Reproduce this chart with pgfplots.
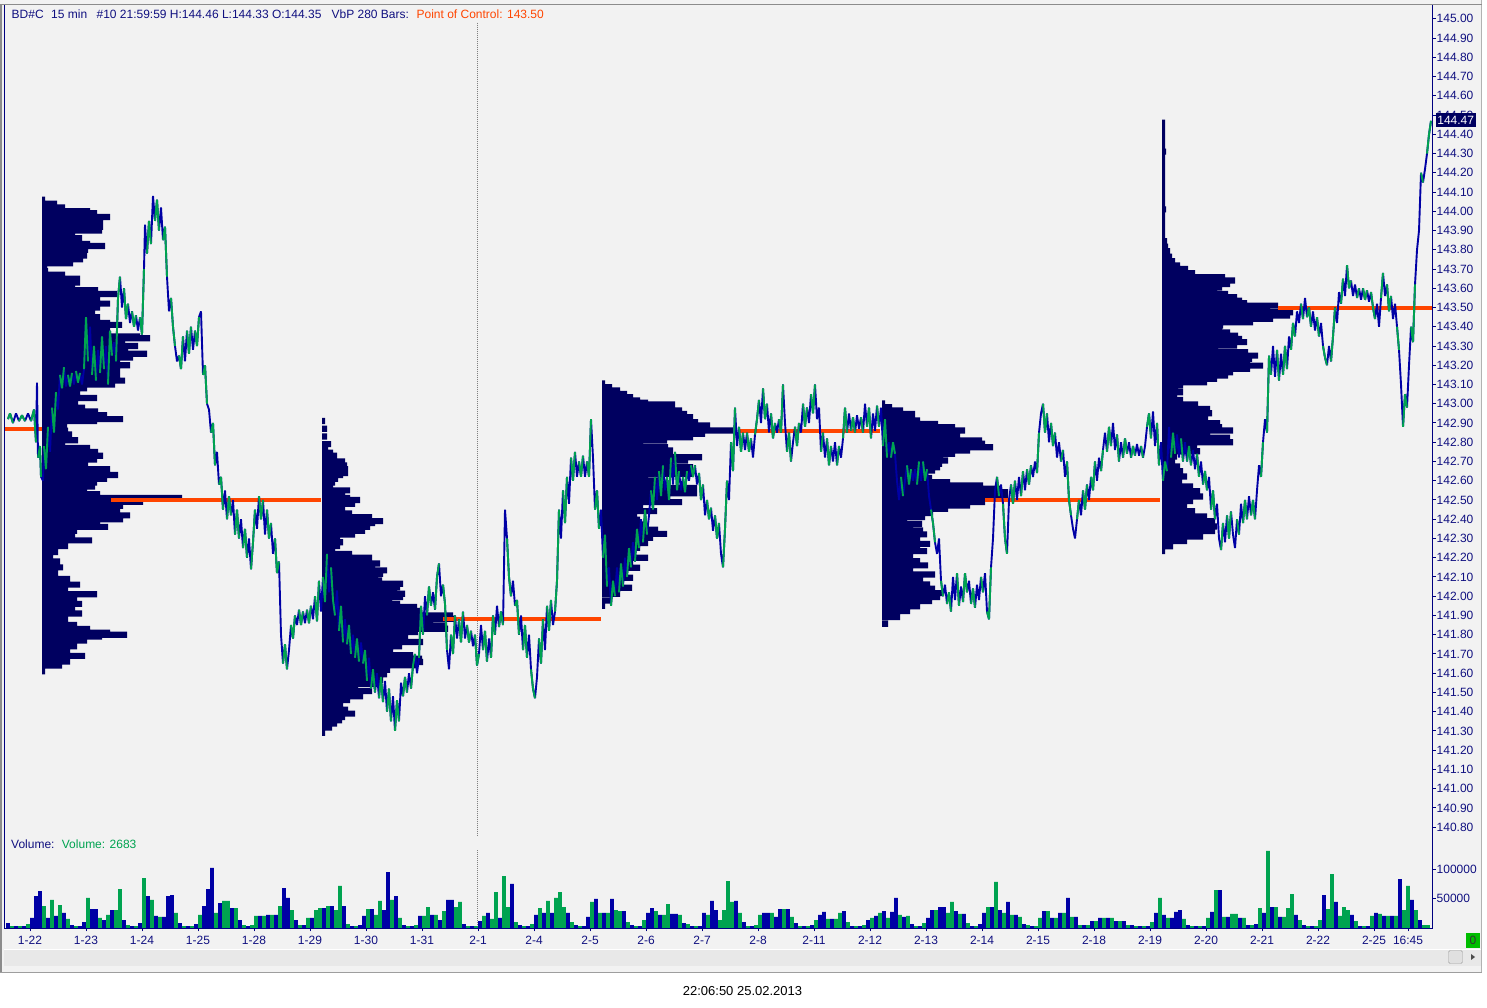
\documentclass[border=0pt]{standalone}
\usepackage{fontspec}
\setmainfont{Liberation Sans}
\usepackage{pgfplots}
\pgfplotsset{compat=1.18}
\usepackage{pgfplotstable}
\definecolor{bgGray}{RGB}{242,242,242}
\definecolor{profNavy}{RGB}{0,0,96}
\definecolor{pBlue}{RGB}{0,0,165}
\definecolor{pGreen}{RGB}{0,163,80}
\definecolor{pocOrange}{RGB}{255,69,0}
\definecolor{txtNavy}{RGB}{16,16,128}
\definecolor{axNavy}{RGB}{0,0,128}
\definecolor{boxGreen}{RGB}{0,190,0}
\newcommand\lbl{\fontsize{12}{14}\selectfont}

\pgfplotstableread[row sep=\\]{
x p\\
8 142.92\\ 10 142.95\\ 13 142.90\\ 16 142.95\\ 19 142.91\\ 22 142.94\\ 25 142.91\\ 28 142.95\\ 31 142.91\\ 34 142.97\\
36 142.80\\ 37 143.11\\ 38 142.72\\ 40 142.78\\ 41 142.62\\ 43 142.60\\ 44 142.78\\ 46 142.66\\ 48 142.88\\ 50 142.75\\
52 142.98\\ 54 142.85\\ 56 143.06\\ 58 142.97\\ 60 143.15\\ 62 143.08\\ 64 143.19\\ 66 143.09\\ 68 143.15\\ 70 143.09\\
72 143.16\\ 74 143.10\\ 76 143.17\\ 78 143.11\\ 80 143.16\\ 82 143.10\\ 84 143.18\\ 86 143.45\\ 88 143.22\\ 90 143.40\\
92 143.15\\ 94 143.30\\ 96 143.12\\ 98 143.28\\ 100 143.16\\ 102 143.35\\ 104 143.18\\ 106 143.30\\ 108 143.10\\ 110 143.38\\
112 143.25\\ 114 143.32\\ 116 143.22\\ 118 143.55\\ 120 143.66\\ 122 143.50\\ 124 143.60\\ 126 143.44\\ 128 143.52\\ 130 143.42\\
132 143.48\\ 134 143.40\\ 136 143.46\\ 138 143.38\\ 140 143.45\\ 142 143.36\\ 144 143.70\\ 145 143.93\\ 147 143.78\\ 149 143.95\\
151 143.83\\ 153 144.08\\ 155 143.95\\ 157 144.06\\ 159 143.90\\ 161 144.02\\ 163 143.85\\ 165 143.92\\ 167 143.66\\ 169 143.48\\
171 143.55\\ 173 143.40\\ 175 143.30\\ 177 143.22\\ 179 143.25\\ 181 143.18\\ 183 143.35\\ 185 143.22\\ 187 143.38\\ 189 143.26\\
191 143.40\\ 193 143.28\\ 195 143.38\\ 197 143.30\\ 199 143.45\\ 201 143.48\\ 203 143.15\\ 205 143.20\\ 207 143.00\\ 209 142.97\\
211 142.85\\ 213 142.90\\ 215 142.68\\ 217 142.75\\ 219 142.58\\ 221 142.62\\ 223 142.45\\ 225 142.55\\ 227 142.40\\ 229 142.52\\
231 142.42\\ 233 142.50\\ 235 142.32\\ 237 142.45\\ 239 142.30\\ 241 142.40\\ 243 142.25\\ 245 142.35\\ 247 142.20\\ 249 142.30\\
251 142.14\\ 253 142.28\\ 255 142.45\\ 257 142.35\\ 259 142.52\\ 261 142.40\\ 263 142.50\\ 265 142.32\\ 267 142.45\\ 269 142.30\\
271 142.38\\ 273 142.22\\ 275 142.30\\ 277 142.12\\ 279 142.18\\ 281 141.80\\ 283 141.65\\ 285 141.75\\ 287 141.62\\ 289 141.72\\
291 141.85\\ 293 141.78\\ 295 141.90\\ 297 141.85\\ 299 141.93\\ 301 141.85\\ 303 141.92\\ 305 141.86\\ 307 141.93\\ 309 141.86\\
311 141.95\\ 313 141.88\\ 315 142.00\\ 317 141.87\\ 319 142.08\\ 321 141.92\\ 323 142.10\\ 325 141.97\\ 327 142.22\\ 329 142.02\\
331 142.15\\ 333 141.98\\ 335 141.90\\ 337 142.03\\ 339 141.82\\ 341 141.95\\ 343 141.76\\ 345 141.88\\ 347 141.75\\ 349 141.85\\
351 141.70\\ 353 141.80\\ 355 141.68\\ 357 141.78\\ 359 141.66\\ 361 141.76\\ 363 141.65\\ 365 141.72\\ 367 141.56\\ 369 141.68\\
371 141.52\\ 373 141.62\\ 375 141.50\\ 377 141.60\\ 379 141.47\\ 381 141.58\\ 383 141.45\\ 385 141.56\\ 387 141.40\\ 389 141.52\\
391 141.35\\ 393 141.48\\ 395 141.30\\ 397 141.46\\ 399 141.35\\ 401 141.55\\ 403 141.48\\ 405 141.58\\ 407 141.50\\ 409 141.60\\
411 141.52\\ 413 141.64\\ 415 141.70\\ 417 141.60\\ 419 141.68\\ 421 141.95\\ 423 141.80\\ 425 142.00\\ 427 141.90\\ 429 142.05\\
431 141.95\\ 433 142.02\\ 435 141.93\\ 437 142.10\\ 439 142.17\\ 441 142.00\\ 443 142.06\\ 445 141.96\\ 447 141.72\\ 449 141.62\\
451 141.80\\ 453 141.70\\ 455 141.90\\ 457 141.78\\ 459 141.88\\ 461 141.76\\ 463 141.92\\ 465 141.78\\ 467 141.85\\ 469 141.76\\
471 141.82\\ 473 141.74\\ 475 141.80\\ 477 141.64\\ 479 141.70\\ 481 141.85\\ 483 141.72\\ 485 141.82\\ 487 141.66\\ 489 141.78\\
491 141.68\\ 493 141.90\\ 495 141.80\\ 497 141.95\\ 499 141.84\\ 501 141.92\\ 503 141.85\\ 505 142.45\\ 507 142.30\\ 509 142.10\\
511 142.00\\ 513 142.08\\ 515 141.95\\ 517 141.98\\ 519 141.80\\ 521 141.90\\ 523 141.72\\ 525 141.85\\ 527 141.68\\ 529 141.80\\
531 141.62\\ 533 141.52\\ 535 141.47\\ 537 141.58\\ 539 141.78\\ 541 141.65\\ 543 141.88\\ 545 141.72\\ 547 141.95\\ 549 141.82\\
551 141.98\\ 553 141.85\\ 555 141.92\\ 557 142.08\\ 559 142.45\\ 561 142.30\\ 563 142.55\\ 565 142.38\\ 567 142.62\\ 569 142.48\\
571 142.72\\ 573 142.60\\ 575 142.75\\ 577 142.62\\ 579 142.70\\ 581 142.62\\ 583 142.73\\ 585 142.62\\ 587 142.70\\ 589 142.62\\
591 142.92\\ 593 142.72\\ 595 142.45\\ 597 142.55\\ 599 142.35\\ 601 142.45\\ 603 142.20\\ 605 142.32\\ 607 142.05\\ 609 142.15\\
611 141.95\\ 613 142.08\\ 615 142.00\\ 617 142.15\\ 619 142.02\\ 621 142.17\\ 623 142.05\\ 625 142.20\\ 627 142.10\\ 629 142.25\\
631 142.15\\ 633 142.28\\ 635 142.18\\ 637 142.35\\ 639 142.25\\ 641 142.40\\ 643 142.28\\ 645 142.45\\ 647 142.32\\ 649 142.42\\
651 142.55\\ 653 142.45\\ 655 142.62\\ 657 142.50\\ 659 142.65\\ 661 142.52\\ 663 142.68\\ 665 142.55\\ 667 142.62\\ 669 142.50\\
671 142.72\\ 673 142.58\\ 675 142.75\\ 677 142.55\\ 679 142.65\\ 681 142.55\\ 683 142.62\\ 685 142.54\\ 687 142.65\\ 689 142.60\\
691 142.68\\ 693 142.62\\ 695 142.68\\ 697 142.58\\ 699 142.64\\ 701 142.50\\ 703 142.58\\ 705 142.42\\ 707 142.50\\ 709 142.40\\
711 142.46\\ 713 142.34\\ 715 142.42\\ 717 142.30\\ 719 142.38\\ 721 142.22\\ 723 142.15\\ 725 142.35\\ 727 142.60\\ 729 142.50\\
731 142.80\\ 733 142.65\\ 735 142.98\\ 737 142.78\\ 739 142.88\\ 741 142.75\\ 743 142.85\\ 745 142.76\\ 747 142.85\\ 749 142.75\\
751 142.82\\ 753 142.72\\ 755 142.84\\ 757 142.92\\ 759 143.02\\ 761 142.90\\ 763 143.08\\ 765 142.92\\ 767 143.00\\ 769 142.85\\
771 142.95\\ 773 142.82\\ 775 142.90\\ 777 142.85\\ 779 142.92\\ 781 142.85\\ 783 143.10\\ 785 142.90\\ 787 142.75\\ 789 142.85\\
791 142.70\\ 793 142.80\\ 795 142.88\\ 797 142.78\\ 799 142.90\\ 801 142.85\\ 803 143.00\\ 805 142.88\\ 807 142.98\\ 809 142.90\\
811 143.05\\ 813 142.95\\ 815 143.10\\ 817 142.92\\ 819 142.98\\ 821 142.75\\ 823 142.85\\ 825 142.72\\ 827 142.82\\ 829 142.68\\
831 142.78\\ 833 142.70\\ 835 142.80\\ 837 142.68\\ 839 142.78\\ 841 142.72\\ 843 142.82\\ 845 142.98\\ 847 142.85\\ 849 142.95\\
851 142.86\\ 853 142.93\\ 855 142.85\\ 857 142.94\\ 859 142.87\\ 861 142.93\\ 863 142.85\\ 865 143.00\\ 867 142.88\\ 869 142.98\\
871 142.82\\ 873 142.95\\ 875 142.86\\ 877 142.99\\ 879 142.88\\ 881 142.98\\ 883 142.78\\ 885 142.92\\ 887 142.72\\ 889 142.80\\
891 142.72\\ 893 142.80\\ 895 142.74\\ 897 142.60\\ 899 142.50\\ 901 142.62\\ 903 142.52\\ 905 142.60\\ 907 142.68\\ 909 142.58\\
911 142.66\\ 913 142.60\\ 915 142.66\\ 917 142.58\\ 919 142.70\\ 921 142.60\\ 923 142.70\\ 925 142.60\\ 927 142.66\\ 929 142.52\\
931 142.45\\ 933 142.38\\ 935 142.28\\ 937 142.22\\ 939 142.30\\ 941 142.08\\ 943 142.00\\ 945 142.06\\ 947 141.96\\ 949 142.02\\
951 141.92\\ 953 142.10\\ 955 141.98\\ 957 142.12\\ 959 141.95\\ 961 142.05\\ 963 141.97\\ 965 142.12\\ 967 142.02\\ 969 142.08\\
971 141.96\\ 973 142.04\\ 975 141.94\\ 977 142.06\\ 979 141.98\\ 981 142.10\\ 983 142.02\\ 985 142.12\\ 987 141.92\\ 989 141.88\\
991 142.15\\ 993 142.30\\ 995 142.55\\ 997 142.62\\ 999 142.52\\ 1001 142.58\\ 1003 142.48\\ 1005 142.30\\ 1007 142.22\\ 1009 142.50\\
1011 142.58\\ 1013 142.48\\ 1015 142.60\\ 1017 142.50\\ 1019 142.62\\ 1021 142.52\\ 1023 142.65\\ 1025 142.55\\ 1027 142.66\\ 1029 142.58\\
1031 142.68\\ 1033 142.62\\ 1035 142.70\\ 1037 142.64\\ 1039 142.85\\ 1041 142.95\\ 1043 143.00\\ 1045 142.85\\ 1047 142.95\\ 1049 142.80\\
1051 142.90\\ 1053 142.78\\ 1055 142.85\\ 1057 142.72\\ 1059 142.80\\ 1061 142.70\\ 1063 142.76\\ 1065 142.62\\ 1067 142.70\\ 1069 142.50\\
1071 142.42\\ 1073 142.35\\ 1075 142.30\\ 1077 142.40\\ 1079 142.50\\ 1081 142.42\\ 1083 142.55\\ 1085 142.45\\ 1087 142.58\\ 1089 142.50\\
1091 142.62\\ 1093 142.55\\ 1095 142.70\\ 1097 142.60\\ 1099 142.72\\ 1101 142.65\\ 1103 142.76\\ 1105 142.85\\ 1107 142.75\\ 1109 142.88\\
1111 142.78\\ 1113 142.90\\ 1115 142.76\\ 1117 142.84\\ 1119 142.70\\ 1121 142.80\\ 1123 142.72\\ 1125 142.82\\ 1127 142.74\\ 1129 142.80\\
1131 142.72\\ 1133 142.78\\ 1135 142.73\\ 1137 142.79\\ 1139 142.73\\ 1141 142.78\\ 1143 142.72\\ 1145 142.78\\ 1147 142.88\\ 1149 142.95\\
1151 142.82\\ 1153 142.96\\ 1155 142.78\\ 1157 142.90\\ 1159 142.68\\ 1161 142.80\\ 1163 142.60\\ 1165 142.70\\ 1167 142.65\\ 1169 142.88\\
1171 142.72\\ 1173 142.85\\ 1175 142.74\\ 1177 142.84\\ 1179 142.72\\ 1181 142.82\\ 1183 142.70\\ 1185 142.80\\ 1187 142.70\\ 1189 142.78\\
1191 142.68\\ 1193 142.76\\ 1195 142.66\\ 1197 142.74\\ 1199 142.62\\ 1201 142.70\\ 1203 142.58\\ 1205 142.65\\ 1207 142.55\\ 1209 142.62\\
1211 142.45\\ 1213 142.55\\ 1215 142.40\\ 1217 142.48\\ 1219 142.30\\ 1221 142.24\\ 1223 142.38\\ 1225 142.28\\ 1227 142.42\\ 1229 142.30\\
1231 142.44\\ 1233 142.32\\ 1235 142.25\\ 1237 142.40\\ 1239 142.32\\ 1241 142.48\\ 1243 142.38\\ 1245 142.50\\ 1247 142.40\\ 1249 142.52\\
1251 142.42\\ 1253 142.50\\ 1255 142.40\\ 1257 142.55\\ 1259 142.68\\ 1261 142.62\\ 1263 142.80\\ 1265 142.92\\ 1267 142.85\\ 1269 143.25\\
1271 143.15\\ 1273 143.30\\ 1275 143.14\\ 1277 143.28\\ 1279 143.12\\ 1281 143.26\\ 1283 143.15\\ 1285 143.30\\ 1287 143.18\\ 1289 143.35\\
1291 143.28\\ 1293 143.42\\ 1295 143.35\\ 1297 143.48\\ 1299 143.42\\ 1301 143.52\\ 1303 143.44\\ 1305 143.55\\ 1307 143.45\\ 1309 143.50\\
1311 143.40\\ 1313 143.48\\ 1315 143.38\\ 1317 143.45\\ 1319 143.35\\ 1321 143.42\\ 1323 143.30\\ 1325 143.24\\ 1327 143.20\\ 1329 143.30\\
1331 143.22\\ 1333 143.35\\ 1335 143.50\\ 1337 143.42\\ 1339 143.58\\ 1341 143.52\\ 1343 143.65\\ 1345 143.56\\ 1347 143.72\\ 1349 143.60\\
1351 143.64\\ 1353 143.56\\ 1355 143.62\\ 1357 143.55\\ 1359 143.60\\ 1361 143.54\\ 1363 143.60\\ 1365 143.54\\ 1367 143.59\\ 1369 143.53\\
1371 143.58\\ 1373 143.50\\ 1375 143.44\\ 1377 143.52\\ 1379 143.40\\ 1381 143.55\\ 1383 143.68\\ 1385 143.56\\ 1387 143.62\\ 1389 143.48\\
1391 143.56\\ 1393 143.44\\ 1395 143.52\\ 1397 143.40\\ 1399 143.28\\ 1401 143.10\\ 1403 142.88\\ 1405 143.05\\ 1407 142.98\\ 1409 143.20\\
1411 143.40\\ 1413 143.32\\ 1415 143.62\\ 1417 143.80\\ 1419 143.90\\ 1421 144.20\\ 1423 144.15\\ 1425 144.22\\ 1427 144.30\\ 1429 144.40\\
1431 144.47\\
}\pricetab

\pgfplotstableread[row sep=\\]{
x v c\\
8 8500 0\\ 12 3400 1\\ 16 3400 0\\ 20 3400 1\\ 24 3400 0\\ 28 6800 1\\ 32 17100 0\\ 36 54600 0\\ 40 63100 0\\ 44 37500 1\\
48 17100 0\\ 52 47800 1\\ 56 20500 0\\ 60 39200 1\\ 64 25600 0\\ 68 15400 1\\ 72 5100 0\\ 76 3400 1\\ 80 3400 0\\ 84 10200 0\\
88 51200 1\\ 92 32400 0\\ 96 32400 0\\ 100 17100 1\\ 104 13600 0\\ 108 22200 1\\ 112 30700 0\\ 116 30700 1\\ 120 66500 1\\ 124 13600 0\\
128 5100 1\\ 132 3400 0\\ 136 3400 1\\ 140 8500 0\\ 144 85300 1\\ 148 54600 0\\ 152 47800 1\\ 156 20500 0\\ 160 18800 1\\ 164 18800 0\\
168 54600 0\\ 172 56300 0\\ 176 25600 1\\ 180 8500 0\\ 184 3400 1\\ 188 3400 0\\ 192 3400 1\\ 196 6800 0\\ 200 22200 1\\ 204 37500 0\\
208 66500 0\\ 212 102400 0\\ 216 25600 1\\ 220 42600 0\\ 224 46100 1\\ 228 46100 1\\ 232 34100 0\\ 236 34100 1\\ 240 13600 0\\ 244 5100 1\\
248 3400 0\\ 252 5100 1\\ 256 20500 1\\ 260 20500 0\\ 264 20500 1\\ 268 22200 0\\ 272 22200 1\\ 276 22200 0\\ 280 37500 1\\ 284 68200 0\\
288 51200 0\\ 292 30700 1\\ 296 13600 0\\ 300 5100 1\\ 304 5100 0\\ 308 17100 1\\ 312 17100 0\\ 316 30700 1\\ 320 34100 1\\ 324 34100 0\\
328 37500 1\\ 332 37500 0\\ 336 30700 1\\ 340 71700 1\\ 344 37500 0\\ 348 6800 1\\ 352 3400 0\\ 356 3400 1\\ 360 5100 0\\ 364 20500 0\\
368 32400 1\\ 372 32400 0\\ 376 22200 1\\ 380 46100 1\\ 384 30700 0\\ 388 95500 0\\ 392 47800 1\\ 396 54600 0\\ 400 17100 1\\ 404 5100 0\\
408 3400 1\\ 412 3400 0\\ 416 5100 1\\ 420 20500 0\\ 424 20500 1\\ 428 35800 1\\ 432 22200 0\\ 436 22200 1\\ 440 13600 0\\ 444 29000 1\\
448 47800 0\\ 452 47800 0\\ 456 35800 1\\ 460 44400 1\\ 464 6800 0\\ 468 3400 1\\ 472 3400 0\\ 476 3400 1\\ 480 11900 0\\ 484 20500 1\\
488 25600 0\\ 492 15400 1\\ 496 61400 1\\ 500 17100 0\\ 504 88700 1\\ 508 35800 1\\ 512 75100 0\\ 516 10200 1\\ 520 5100 0\\ 524 3400 1\\
528 3400 0\\ 532 6800 1\\ 536 22200 0\\ 540 34100 1\\ 544 25600 0\\ 548 46100 1\\ 552 25600 0\\ 556 51200 1\\ 560 61400 1\\ 564 35800 1\\
568 25600 0\\ 572 10200 1\\ 576 5100 0\\ 580 3400 1\\ 584 3400 0\\ 588 18800 0\\ 592 44400 1\\ 596 49500 0\\ 600 25600 1\\ 604 25600 0\\
608 25600 1\\ 612 49500 0\\ 616 30700 1\\ 620 29000 1\\ 624 29000 0\\ 628 10200 1\\ 632 5100 0\\ 636 3400 1\\ 640 3400 0\\ 644 13600 1\\
648 25600 0\\ 652 34100 0\\ 656 29000 1\\ 660 22200 0\\ 664 22200 1\\ 668 40900 1\\ 672 23900 0\\ 676 23900 0\\ 680 22200 1\\ 684 8500 0\\
688 6800 1\\ 692 3400 0\\ 696 3400 1\\ 700 3400 0\\ 704 25600 0\\ 708 22200 1\\ 712 46100 0\\ 716 30700 0\\ 720 13600 1\\ 724 30700 1\\
728 80200 1\\ 732 44400 1\\ 736 46100 0\\ 740 25600 1\\ 744 10200 0\\ 748 3400 1\\ 752 3400 0\\ 756 5100 1\\ 760 22200 1\\ 764 25600 0\\
768 25600 0\\ 772 25600 1\\ 776 18800 0\\ 780 32400 0\\ 784 32400 1\\ 788 32400 0\\ 792 18800 1\\ 796 8500 0\\ 800 3400 1\\ 804 3400 0\\
808 3400 1\\ 812 5100 0\\ 816 13600 1\\ 820 22200 0\\ 824 27300 0\\ 828 15400 1\\ 832 15400 0\\ 836 15400 1\\ 840 25600 1\\ 844 29000 0\\
848 10200 1\\ 852 3400 0\\ 856 3400 1\\ 860 3400 0\\ 864 5100 1\\ 868 13600 0\\ 872 17100 1\\ 876 20500 0\\ 880 25600 1\\ 884 29000 0\\
888 17100 1\\ 892 27300 0\\ 896 51200 0\\ 900 22200 1\\ 904 18800 0\\ 908 20500 1\\ 912 6800 0\\ 916 3400 1\\ 920 3400 0\\ 924 8500 1\\
928 17100 0\\ 932 30700 0\\ 936 30700 1\\ 940 35800 0\\ 944 35800 0\\ 948 25600 1\\ 952 44400 1\\ 956 29000 0\\ 960 23900 1\\ 964 23900 0\\
968 8500 1\\ 972 3400 0\\ 976 3400 1\\ 980 6800 0\\ 984 25600 0\\ 988 35800 1\\ 992 35800 0\\ 996 78500 1\\ 1000 30700 0\\ 1004 25600 1\\
1008 44400 0\\ 1012 22200 1\\ 1016 22200 0\\ 1020 18800 1\\ 1024 6800 0\\ 1028 5100 1\\ 1032 3400 0\\ 1036 3400 1\\ 1040 17100 1\\ 1044 29000 0\\
1048 29000 1\\ 1052 17100 0\\ 1056 17100 1\\ 1060 25600 0\\ 1064 25600 1\\ 1068 51200 0\\ 1072 18800 1\\ 1076 18800 0\\ 1080 5100 1\\ 1084 5100 0\\
1088 5100 1\\ 1092 11900 0\\ 1096 11900 1\\ 1100 17100 0\\ 1104 17100 1\\ 1108 17100 0\\ 1112 17100 1\\ 1116 11900 0\\ 1120 11900 1\\ 1124 11900 0\\
1128 5100 1\\ 1132 5100 0\\ 1136 3400 1\\ 1140 3400 0\\ 1144 3400 1\\ 1148 3400 0\\ 1152 10200 1\\ 1156 25600 0\\ 1160 51200 1\\ 1164 22200 0\\
1168 17100 1\\ 1172 17100 0\\ 1176 27300 0\\ 1180 30700 0\\ 1184 15400 1\\ 1188 5100 0\\ 1192 3400 1\\ 1196 3400 0\\ 1200 3400 1\\ 1204 3400 0\\
1208 17100 1\\ 1212 27300 0\\ 1216 64800 1\\ 1220 64800 0\\ 1224 18800 1\\ 1228 18800 0\\ 1232 23900 1\\ 1236 23900 1\\ 1240 17100 0\\ 1244 17100 1\\
1248 5100 0\\ 1252 5100 1\\ 1256 6800 0\\ 1260 34100 1\\ 1264 25600 0\\ 1268 131400 1\\ 1272 35800 0\\ 1276 35800 1\\ 1280 18800 0\\ 1284 18800 1\\
1288 34100 1\\ 1292 58000 1\\ 1296 22200 0\\ 1300 13600 1\\ 1304 5100 0\\ 1308 3400 1\\ 1312 3400 0\\ 1316 3400 1\\ 1320 13600 1\\ 1324 56300 0\\
1328 32400 1\\ 1332 92100 1\\ 1336 44400 0\\ 1340 20500 1\\ 1344 35800 1\\ 1348 30700 1\\ 1352 22200 0\\ 1356 11900 1\\ 1360 3400 0\\ 1364 3400 1\\
1368 3400 0\\ 1372 20500 1\\ 1376 25600 0\\ 1380 23900 1\\ 1384 20500 0\\ 1388 20500 1\\ 1392 20500 0\\ 1396 20500 1\\ 1400 83600 0\\ 1404 30700 1\\
1408 71700 1\\ 1412 47800 0\\ 1416 30700 1\\ 1420 13600 0\\ 1424 5100 1\\ 1428 5100 1\\
}\voltab

\pgfplotsset{
  profile/.style={at={(4pt,172pt)}, anchor=south west, scale only axis,
    width=1428pt, height=831pt, ymin=140.754, ymax=145.072, hide axis, clip=true},
  profbar/.style={xbar, bar width=0.032, bar shift=0pt, fill=profNavy, draw=none},
}

\begin{document}
\begin{tikzpicture}[x=1pt,y=1pt]
\path[use as bounding box, fill=white] (0,0) rectangle (1487,1008);
\fill[bgGray] (0,36) rectangle (1482,1008);
% scrollbar area
\fill[black!9] (4,42) rectangle (1482,58);
\draw[white, line width=1pt] (4,58.5) -- (1482,58.5);
\fill[black!5] (4,36) rectangle (1482,42);
\draw[black!38, line width=1.2pt] (0,35.5) -- (1482,35.5);
\draw[black!30, line width=1pt] (1481.5,35.5) -- (1481.5,1008);
\draw[rounded corners=1.5pt, fill=black!12, draw=black!38] (1448.5,44.5) rectangle (1462.5,57.5);
\fill[black!70] (1471,48) -- (1475,51) -- (1471,54) -- cycle;
% frame lines
\draw[black!45, line width=1.2pt] (0,1003.2) -- (1482,1003.2);
\draw[black!45, line width=1.5pt] (1,36) -- (1,1003);

% ---------- volume profiles ----------
\begin{axis}[profile, xmin=-38, xmax=1390]
\addplot[profbar] table[row sep=\\, x=w, y=p]{
p w\\
144.06 3\\ 144.04 15\\ 144.02 23\\ 144.00 48\\ 143.99 55\\ 143.97 68\\ 143.95 61\\ 143.93 55\\ 143.92 61\\ 143.90 60\\
143.88 33\\ 143.86 40\\ 143.85 35\\ 143.83 48\\ 143.82 63\\ 143.80 46\\ 143.79 38\\ 143.77 45\\ 143.75 41\\ 143.73 31\\
143.71 5\\ 143.69 6\\ 143.67 23\\ 143.65 38\\ 143.63 38\\ 143.61 33\\ 143.59 56\\ 143.57 75\\ 143.55 58\\ 143.52 68\\
143.50 58\\ 143.47 53\\ 143.45 58\\ 143.42 68\\ 143.41 80\\ 143.38 68\\ 143.35 98\\ 143.34 108\\ 143.32 83\\ 143.30 96\\
143.28 86\\ 143.26 105\\ 143.24 91\\ 143.22 78\\ 143.20 88\\ 143.18 78\\ 143.15 78\\ 143.12 83\\ 143.10 73\\ 143.08 45\\
143.06 38\\ 143.03 55\\ 143.00 36\\ 142.98 43\\ 142.96 56\\ 142.94 65\\ 142.92 81\\ 142.91 55\\ 142.89 25\\ 142.86 26\\
142.84 30\\ 142.81 36\\ 142.79 23\\ 142.77 48\\ 142.75 56\\ 142.73 61\\ 142.71 55\\ 142.68 46\\ 142.66 68\\ 142.63 76\\
142.61 65\\ 142.59 55\\ 142.57 53\\ 142.55 45\\ 142.53 58\\ 142.51 140\\ 142.49 101\\ 142.47 81\\ 142.44 78\\ 142.42 88\\
142.40 81\\ 142.39 58\\ 142.36 66\\ 142.34 35\\ 142.31 33\\ 142.29 50\\ 142.26 26\\ 142.23 16\\ 142.21 11\\ 142.18 18\\
142.15 21\\ 142.12 16\\ 142.09 28\\ 142.06 38\\ 142.03 26\\ 142.01 55\\ 141.98 35\\ 141.96 40\\ 141.93 33\\ 141.91 40\\
141.88 26\\ 141.85 35\\ 141.83 48\\ 141.81 68\\ 141.80 85\\ 141.79 60\\ 141.77 45\\ 141.74 35\\ 141.72 28\\ 141.69 43\\
141.66 28\\ 141.64 20\\ 141.61 3\\
};
\end{axis}
\begin{axis}[profile, xmin=-318, xmax=1110]
\addplot[profbar] table[row sep=\\, x=w, y=p]{
p w\\
142.91 3\\ 142.87 5\\ 142.83 5\\ 142.79 9\\ 142.77 6\\ 142.745 11\\ 142.73 15\\ 142.71 13\\ 142.70 23\\ 142.68 25\\
142.66 26\\ 142.64 26\\ 142.63 21\\ 142.61 16\\ 142.59 13\\ 142.57 11\\ 142.55 28\\ 142.52 23\\ 142.51 28\\ 142.50 38\\
142.48 33\\ 142.46 23\\ 142.45 18\\ 142.43 30\\ 142.41 50\\ 142.39 61\\ 142.38 53\\ 142.36 48\\ 142.34 43\\ 142.32 33\\
142.30 18\\ 142.28 21\\ 142.26 18\\ 142.24 13\\ 142.22 30\\ 142.20 50\\ 142.186 45\\ 142.17 58\\ 142.15 53\\ 142.134 65\\
142.117 61\\ 142.10 56\\ 142.082 60\\ 142.065 81\\ 142.047 78\\ 142.03 75\\ 142.013 83\\ 141.996 81\\ 141.978 70\\ 141.96 78\\
141.944 95\\ 141.923 100\\ 141.90 131\\ 141.883 133\\ 141.866 111\\ 141.848 125\\ 141.831 126\\ 141.814 96\\ 141.797 85\\ 141.78 86\\
141.762 101\\ 141.74 80\\ 141.715 71\\ 141.693 91\\ 141.675 100\\ 141.658 101\\ 141.641 95\\ 141.618 68\\ 141.594 65\\ 141.566 61\\
141.545 58\\ 141.528 36\\ 141.507 50\\ 141.48 41\\ 141.46 28\\ 141.438 21\\ 141.41 26\\ 141.39 33\\ 141.372 23\\ 141.355 20\\
141.338 15\\ 141.317 10\\ 141.29 3\\
};
\end{axis}
\begin{axis}[profile, xmin=-598, xmax=830]
\addplot[profbar] table[row sep=\\, x=w, y=p]{
p w\\
143.105 3\\ 143.086 10\\ 143.069 18\\ 143.051 25\\ 143.034 31\\ 143.017 38\\ 143.005 46\\ 142.996 73\\ 142.982 60\\ 142.965 80\\
142.947 85\\ 142.93 91\\ 142.918 75\\ 142.904 96\\ 142.887 108\\ 142.87 105\\ 142.861 131\\ 142.844 103\\ 142.826 91\\ 142.809 65\\
142.792 41\\ 142.774 66\\ 142.757 71\\ 142.74 71\\ 142.722 100\\ 142.705 86\\ 142.688 71\\ 142.67 91\\ 142.653 76\\ 142.636 91\\
142.618 46\\ 142.601 61\\ 142.584 66\\ 142.563 95\\ 142.535 95\\ 142.511 68\\ 142.489 80\\ 142.466 41\\ 142.442 55\\ 142.42 35\\
142.397 38\\ 142.373 43\\ 142.345 56\\ 142.324 65\\ 142.304 51\\ 142.276 46\\ 142.252 38\\ 142.224 33\\ 142.2 46\\ 142.172 31\\
142.148 38\\ 142.12 25\\ 142.096 31\\ 142.068 21\\ 142.044 30\\ 142.013 18\\ 141.978 8\\ 141.95 3\\
};
\end{axis}
\begin{axis}[profile, xmin=-878, xmax=550]
\addplot[profbar] table[row sep=\\, x=w, y=p]{
p w\\
143.001 3\\ 142.982 10\\ 142.965 21\\ 142.947 33\\ 142.93 25\\ 142.913 38\\ 142.895 56\\ 142.878 73\\ 142.861 83\\ 142.843 78\\
142.826 73\\ 142.809 100\\ 142.792 103\\ 142.774 111\\ 142.757 88\\ 142.74 73\\ 142.722 61\\ 142.705 66\\ 142.688 60\\ 142.67 58\\
142.653 53\\ 142.636 46\\ 142.615 50\\ 142.592 68\\ 142.575 101\\ 142.558 118\\ 142.541 126\\ 142.523 126\\ 142.506 115\\ 142.489 103\\
142.471 88\\ 142.454 66\\ 142.432 51\\ 142.411 43\\ 142.394 25\\ 142.376 40\\ 142.359 31\\ 142.342 41\\ 142.321 45\\ 142.293 38\\
142.272 48\\ 142.255 38\\ 142.234 45\\ 142.207 31\\ 142.182 38\\ 142.16 46\\ 142.137 31\\ 142.113 53\\ 142.085 41\\ 142.061 48\\
142.039 53\\ 142.016 61\\ 141.995 58\\ 141.975 50\\ 141.947 38\\ 141.923 28\\ 141.892 18\\ 141.857 6\\
};
\end{axis}
\begin{axis}[profile, xmin=-1158, xmax=270]
\addplot[profbar] table[row sep=\\, x=w, y=p]{
p w\\
144.46 3\\ 144.43 3\\ 144.40 3\\ 144.37 3\\ 144.34 3\\ 144.31 4\\ 144.28 3\\ 144.25 3\\ 144.22 3\\ 144.19 3\\
144.16 3\\ 144.13 3\\ 144.10 3\\ 144.07 3\\ 144.04 3\\ 144.01 4\\ 143.98 3\\ 143.95 3\\ 143.92 3\\ 143.89 3\\
143.86 3\\ 143.844 5\\ 143.816 6\\ 143.792 8\\ 143.764 10\\ 143.74 13\\ 143.718 18\\ 143.70 26\\ 143.678 33\\ 143.657 63\\
143.64 73\\ 143.622 68\\ 143.605 60\\ 143.588 55\\ 143.570 66\\ 143.553 75\\ 143.536 80\\ 143.522 85\\ 143.51 116\\ 143.493 108\\
143.475 131\\ 143.458 128\\ 143.441 111\\ 143.423 91\\ 143.406 61\\ 143.389 60\\ 143.371 68\\ 143.354 76\\ 143.337 80\\ 143.32 85\\
143.302 75\\ 143.285 56\\ 143.268 86\\ 143.25 96\\ 143.233 90\\ 143.216 88\\ 143.198 101\\ 143.181 88\\ 143.164 71\\ 143.146 66\\
143.129 55\\ 143.112 45\\ 143.094 21\\ 143.077 16\\ 143.06 21\\ 143.043 15\\ 143.02 21\\ 142.996 36\\ 142.973 48\\ 142.951 50\\
142.927 46\\ 142.899 58\\ 142.878 60\\ 142.861 71\\ 142.844 48\\ 142.823 68\\ 142.8 71\\ 142.778 35\\ 142.753 38\\ 142.726 15\\
142.702 13\\ 142.674 18\\ 142.65 21\\ 142.622 25\\ 142.598 20\\ 142.57 31\\ 142.546 38\\ 142.518 41\\ 142.494 31\\ 142.466 25\\
142.442 33\\ 142.414 45\\ 142.39 53\\ 142.362 55\\ 142.338 53\\ 142.31 41\\ 142.286 25\\ 142.259 11\\ 142.234 3\\
};
\end{axis}

% ---------- price panel ----------
\begin{axis}[at={(4pt,172pt)}, anchor=south west, scale only axis,
  width=1428pt, height=831pt, xmin=4, xmax=1432, ymin=140.754, ymax=145.072,
  axis x line=none, axis y line=right, axis line style={draw=none},
  xtick=\empty, scaled y ticks=false,
  ytick={140.8,140.9,141.0,141.1,141.2,141.3,141.4,141.5,141.6,141.7,141.8,141.9,142.0,142.1,142.2,142.3,142.4,142.5,142.6,142.7,142.8,142.9,143.0,143.1,143.2,143.3,143.4,143.5,143.6,143.7,143.8,143.9,144.0,144.1,144.2,144.3,144.4,144.5,144.6,144.7,144.8,144.9,145.0},
  yticklabels={140.80,140.90,141.00,141.10,141.20,141.30,141.40,141.50,141.60,141.70,141.80,141.90,142.00,142.10,142.20,142.30,142.40,142.50,142.60,142.70,142.80,142.90,143.00,143.10,143.20,143.30,143.40,143.50,143.60,143.70,143.80,143.90,144.00,144.10,144.20,144.30,144.40,144.50,144.60,144.70,144.80,144.90,145.00},
  tick align=outside, major tick length=3.5pt, tick style={draw=axNavy, line width=1pt},
  yticklabel style={font=\lbl, text=txtNavy, anchor=west, inner sep=0pt, xshift=1pt},
]
\addplot[black!50, line width=1pt, dash pattern=on 1pt off 1pt] coordinates {(477.5,144.98) (477.5,140.76)};
\addplot[pocOrange, line width=4pt] coordinates {(4,142.87) (42,142.87)};
\addplot[pocOrange, line width=4pt] coordinates {(111,142.50) (321,142.50)};
\addplot[pocOrange, line width=4pt] coordinates {(443,141.88) (601,141.88)};
\addplot[pocOrange, line width=4pt] coordinates {(740,142.86) (880,142.86)};
\addplot[pocOrange, line width=4pt] coordinates {(985,142.50) (1160,142.50)};
\addplot[pocOrange, line width=4pt] coordinates {(1278,143.50) (1432,143.50)};
\addplot[pBlue, line width=1.9pt, line join=bevel] table[x=x, y=p] {\pricetab};
\addplot[pGreen, line width=1.9pt, line join=bevel, unbounded coords=jump,
  restrict expr to domain={mod(\coordindex,4)}{0:2.5}] table[x=x, y=p] {\pricetab};
\end{axis}

% ---------- volume panel ----------
\begin{axis}[at={(4pt,80pt)}, anchor=south west, scale only axis,
  width=1428pt, height=91pt, xmin=4, xmax=1432, ymin=0, ymax=155290,
  axis x line=bottom, axis y line=right, axis line style={draw=none},
  scaled y ticks=false, scaled x ticks=false,
  ytick={50000,100000}, yticklabels={50000,100000},
  xtick={30,86,142,198,254,310,366,422,478,534,590,646,702,758,814,870,926,982,1038,1094,1150,1206,1262,1318,1374,1408},
  xticklabels={1-22,1-23,1-24,1-25,1-28,1-29,1-30,1-31,2-1,2-4,2-5,2-6,2-7,2-8,2-11,2-12,2-13,2-14,2-15,2-18,2-19,2-20,2-21,2-22,2-25,16:45},
  tick align=outside, major tick length=3.5pt, tick style={draw=axNavy, line width=1pt},
  yticklabel style={font=\lbl, text=txtNavy, anchor=west, inner sep=0pt, xshift=1pt},
  xticklabel style={font=\lbl, text=txtNavy, anchor=north, inner sep=0pt, yshift=-4pt},
]
\addplot[black!50, line width=1pt, dash pattern=on 1pt off 1pt] coordinates {(477.5,133000) (477.5,0)};
\addplot[ybar, bar width=3.7, bar shift=0pt, fill=pBlue, draw=none,
  restrict expr to domain={\thisrow{c}}{-0.5:0.5}] table[x=x, y=v] {\voltab};
\addplot[ybar, bar width=3.7, bar shift=0pt, fill=pGreen, draw=none,
  restrict expr to domain={\thisrow{c}}{0.5:1.5}] table[x=x, y=v] {\voltab};
\end{axis}

% axis frame lines
\draw[axNavy, line width=1.3pt] (4.5,79.5) -- (4.5,1003);
\draw[axNavy, line width=1.3pt] (1432.5,79.5) -- (1432.5,1003);
\draw[axNavy, line width=1.3pt] (4,79.5) -- (1433,79.5);

% current price marker
\node[fill=profNavy, text=white, font=\lbl, inner sep=0pt, minimum width=40pt, minimum height=14pt, anchor=west] at (1435.5,887.5) {144.47};
% zero box
\node[fill=boxGreen, text=black!80, font=\lbl, inner sep=0pt, minimum width=14pt, minimum height=15pt] at (1473,67.5) {0};

% header texts
\begin{scope}[every node/.style={anchor=base west, inner sep=0pt, font=\lbl, text=txtNavy}]
\node at (11.5,989.7) {BD\#C};
\node at (51,989.7) {15 min};
\node at (96.4,989.7) {\#10 21:59:59 H:144.46 L:144.33 O:144.35};
\node at (331.4,989.7) {VbP 280 Bars:};
\node[text=pocOrange] at (416.4,989.7) {Point of Control: 143.50};
\node at (11,159.7) {Volume:};
\node[text=pGreen] at (61.7,159.7) {Volume: 2683};
\end{scope}
\node[anchor=base, inner sep=0pt, font=\fontsize{13}{15}\selectfont, text=black] at (742.5,12.3) {22:06:50 25.02.2013};
\end{tikzpicture}
\end{document}
